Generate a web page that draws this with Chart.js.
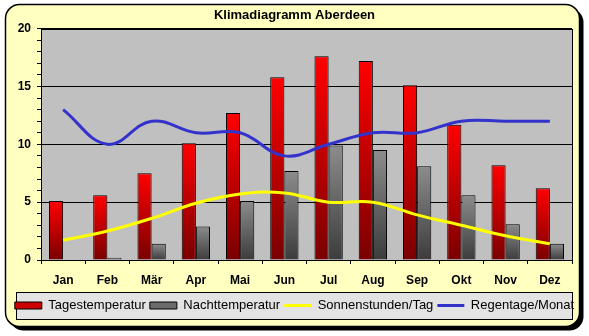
<!DOCTYPE html>
<html>
<head>
<meta charset="utf-8">
<script src="https://cdn.jsdelivr.net/npm/chart.js@4"></script>
<style>
  html, body { margin: 0; padding: 0; background: #fff; }
  #wrap { width: 589px; height: 336px; }
</style>
</head>
<body>
<div id="wrap"><canvas id="klimaChart" width="589" height="336"></canvas></div>
<script>
const months = ['Jan', 'Feb', 'Mär', 'Apr', 'Mai', 'Jun', 'Jul', 'Aug', 'Sep', 'Okt', 'Nov', 'Dez'];
const tagesTemp = [5.1, 5.6, 7.5, 10.1, 12.7, 15.8, 17.6, 17.2, 15.1, 11.7, 8.2, 6.2];
const nachtTemp = [0, 0.2, 1.4, 2.9, 5.1, 7.7, 9.9, 9.5, 8.1, 5.6, 3.1, 1.4];
const sonnenstunden = [1.7, 2.5, 3.6, 4.9, 5.7, 5.8, 5.0, 5.0, 3.9, 3.0, 2.1, 1.4];
const regentage = [13, 10, 12, 11, 11, 9, 10, 11, 11, 12, 12, 12];
const yTicksMajor = [0, 5, 10, 15, 20];

const FONT = '"Liberation Sans", Arial, sans-serif';

// per-bar vertical gradient, light at the top, dark at the bottom
function barGradient(top, bottom, fallback) {
    return (ctx) => {
        const chart = ctx.chart;
        const y = chart.scales.y;
        if (ctx.type !== 'data' || !y || !chart.chartArea) return fallback;
        const yTop = y.getPixelForValue(ctx.raw);
        const yBottom = y.getPixelForValue(0);
        if (!isFinite(yTop) || yBottom - yTop < 1) return fallback;
        const g = chart.ctx.createLinearGradient(0, yTop, 0, yBottom);
        g.addColorStop(0, top);
        g.addColorStop(1, bottom);
        return g;
    };
}

function roundRect(c, x, y, w, h, r) {
    c.beginPath();
    c.moveTo(x + r, y);
    c.lineTo(x + w - r, y);
    c.arcTo(x + w, y, x + w, y + r, r);
    c.lineTo(x + w, y + h - r);
    c.arcTo(x + w, y + h, x + w - r, y + h, r);
    c.lineTo(x + r, y + h);
    c.arcTo(x, y + h, x, y + h - r, r);
    c.lineTo(x, y + r);
    c.arcTo(x, y, x + r, y, r);
    c.closePath();
}

const framePlugin = {
    id: 'frame',
    beforeDraw(chart) {
        const c = chart.ctx;
        const area = chart.chartArea;
        c.save();
        // shadow + yellow rounded panel
        roundRect(c, 9.5, 8.5, 574, 322, 14);
        c.fillStyle = '#000';
        c.fill();
        roundRect(c, 5.5, 4.5, 574, 322, 14);
        c.fillStyle = '#ffffc0';
        c.fill();
        c.lineWidth = 1.5;
        c.strokeStyle = '#000';
        c.stroke();
        // plot area
        c.fillStyle = '#c0c0c0';
        c.fillRect(area.left, area.top, area.right - area.left, area.bottom - area.top);
        // legend box, centred on the legend row
        const lg = chart.legend;
        const hb = lg.legendHitBoxes && lg.legendHitBoxes[0];
        const cy = hb ? hb.top + hb.height / 2 : lg.top + lg.height / 2;
        const top = Math.round(cy - 13.5) + 0.5;
        c.fillStyle = '#e3e3e3';
        c.fillRect(16.5, top, area.right - 16, 27);
        c.lineWidth = 1;
        c.strokeRect(16.5, top, area.right - 16, 27);
        c.restore();
    },
    beforeDatasetsDraw(chart) {
        const c = chart.ctx;
        const a = chart.chartArea;
        c.save();
        c.strokeStyle = '#000';
        c.lineWidth = 1;
        c.strokeRect(Math.round(a.left) + 0.5, Math.round(a.top) + 0.5,
            Math.round(a.right - a.left), Math.round(a.bottom - a.top));
        c.restore();
    }
};

const legendFill = ['#cc0000', '#6a6a6a'];

new Chart(document.getElementById('klimaChart'), {
    data: {
        labels: months,
        datasets: [{
            type: 'bar',
            label: 'Tagestemperatur',
            data: tagesTemp,
            backgroundColor: barGradient('#ff0000', '#7a0000', '#cc0000'),
            borderColor: '#000',
            borderWidth: 1,
            categoryPercentage: 0.64,
            barPercentage: 1.0,
            order: 2
        }, {
            type: 'bar',
            label: 'Nachttemperatur',
            data: nachtTemp,
            backgroundColor: barGradient('#8c8c8c', '#3c3c3c', '#6a6a6a'),
            borderColor: '#000',
            borderWidth: 1,
            categoryPercentage: 0.64,
            barPercentage: 1.0,
            order: 2
        }, {
            type: 'line',
            label: 'Sonnenstunden/Tag',
            data: sonnenstunden,
            borderColor: '#ffff00',
            backgroundColor: '#ffff00',
            borderWidth: 3,
            pointRadius: 0,
            tension: 0.4,
            order: 1
        }, {
            type: 'line',
            label: 'Regentage/Monat',
            data: regentage,
            borderColor: '#3333cc',
            backgroundColor: '#3333cc',
            borderWidth: 3,
            pointRadius: 0,
            tension: 0.4,
            order: 0
        }]
    },
    options: {
        responsive: false,
        animation: false,
        devicePixelRatio: 1,
        layout: { padding: { top: 0, bottom: 14, left: 0, right: 0 } },
        scales: {
            x: {
                offset: true,
                afterFit(scale) { scale.height = 35; },
                grid: { display: true, drawOnChartArea: false, color: '#000', tickLength: 4 },
                border: { color: '#000' },
                ticks: { color: '#000', padding: 9, font: { family: FONT, size: 12, weight: 'bold' } }
            },
            y: {
                min: 0,
                max: 20,
                afterFit(scale) { scale.width = 41; },
                grid: {
                    color: (ctx) => yTicksMajor.includes(ctx.tick && ctx.tick.value) ? '#000' : 'rgba(0,0,0,0)',
                    tickColor: '#000',
                    tickLength: 4
                },
                border: { color: '#000' },
                ticks: {
                    stepSize: 1,
                    autoSkip: false,
                    color: '#000',
                    padding: 6,
                    font: { family: FONT, size: 12, weight: 'bold' },
                    callback: (v) => yTicksMajor.includes(v) ? v : ''
                }
            },
            yRight: {
                position: 'right',
                display: true,
                afterFit(scale) { scale.width = 17; },
                grid: { display: false },
                border: { display: false },
                ticks: { display: false }
            }
        },
        plugins: {
            title: {
                display: true,
                text: 'Klimadiagramm Aberdeen',
                color: '#000',
                font: { family: FONT, size: 13, weight: 'bold' },
                padding: { top: 8, bottom: 5 }
            },
            legend: {
                position: 'bottom',
                labels: {
                    usePointStyle: true,
                    pointStyleWidth: 27,
                    boxHeight: 7,
                    padding: 4,
                    color: '#000',
                    font: { family: FONT, size: 13 },
                    sort: (a, b) => a.datasetIndex - b.datasetIndex,
                    generateLabels(chart) {
                        const items = Chart.defaults.plugins.legend.labels.generateLabels(chart);
                        items.forEach((it) => {
                            const ds = chart.data.datasets[it.datasetIndex];
                            if (ds.type === 'bar') {
                                it.pointStyle = 'rect';
                                it.fillStyle = legendFill[it.datasetIndex];
                                it.strokeStyle = '#000';
                                it.lineWidth = 1;
                            } else {
                                it.pointStyle = 'line';
                            }
                        });
                        return items;
                    }
                }
            },
            tooltip: { enabled: false }
        }
    },
    plugins: [framePlugin]
});
</script>
</body>
</html>
